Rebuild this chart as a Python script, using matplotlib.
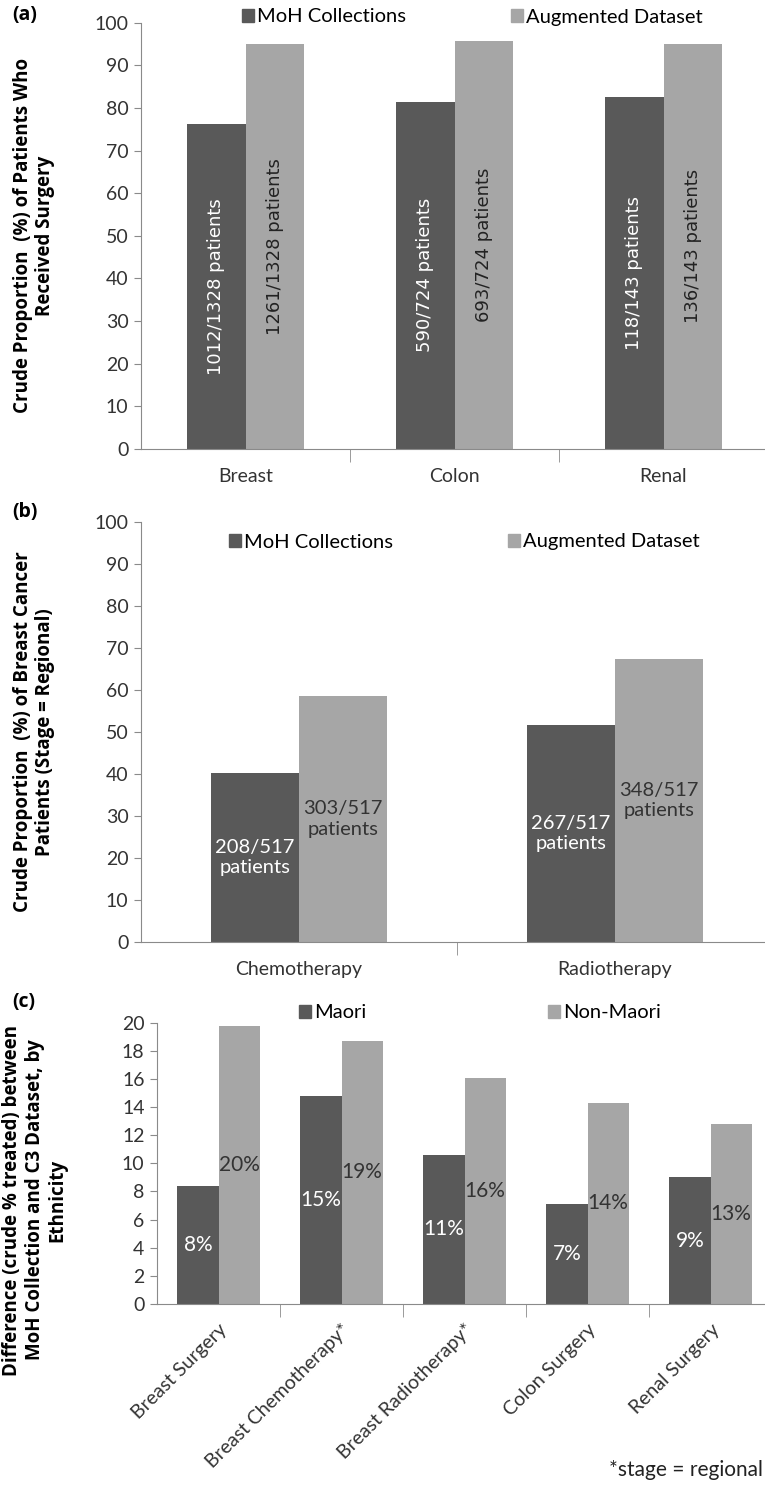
import matplotlib.pyplot as plt
from matplotlib.patches import Patch
import numpy as np

# ==============================================================================
# Data
# ==============================================================================
surg_cats = ['Breast', 'Colon', 'Renal']
surg_moh = [76.2, 81.5, 82.5]
surg_aug = [95.0, 95.7, 95.1]
surg_moh_lbl = ['1012/1328 patients', '590/724 patients', '118/143 patients']
surg_aug_lbl = ['1261/1328 patients', '693/724 patients', '136/143 patients']

adj_cats = ['Chemotherapy', 'Radiotherapy']
adj_moh = [40.2, 51.6]
adj_aug = [58.6, 67.3]
adj_moh_lbl = ['208/517\npatients', '267/517\npatients']
adj_aug_lbl = ['303/517\npatients', '348/517\npatients']

eth_cats = ['Breast Surgery', 'Breast Chemotherapy*', 'Breast Radiotherapy*',
            'Colon Surgery', 'Renal Surgery']
eth_maori = [8.4, 14.8, 10.6, 7.1, 9.0]
eth_non = [19.8, 18.7, 16.1, 14.3, 12.8]
eth_maori_lbl = ['8%', '15%', '11%', '7%', '9%']
eth_non_lbl = ['20%', '19%', '16%', '14%', '13%']

DARK = '#595959'
LIGHT = '#a6a6a6'
AXC = '#8a8a8a'
NARROW = ['Lato', 'DejaVu Sans']
BOLD = ['Open Sans', 'DejaVu Sans']

W, H = 765, 1485
fig = plt.figure(figsize=(W / 100, H / 100), dpi=100)


def fx(px):
    return px / W


def fy(py):
    return 1 - py / H


def style_axes(ax, ncat, ymax, ystep):
    for s in ['top', 'right']:
        ax.spines[s].set_visible(False)
    for s in ['left', 'bottom']:
        ax.spines[s].set_color(AXC)
    ax.set_xlim(-0.5, ncat - 0.5)
    ax.set_ylim(0, ymax)
    ax.set_yticks(np.arange(0, ymax + 0.1, ystep))
    ax.set_xticks(np.arange(ncat))
    ax.set_xticks(np.arange(ncat) + 0.5, minor=True)
    ax.tick_params(axis='x', which='major', length=0, pad=14)
    ax.tick_params(axis='x', which='minor', length=9, color=AXC)
    ax.tick_params(axis='y', length=5, color=AXC, pad=4)
    for t in ax.get_yticklabels() + ax.get_xticklabels():
        t.set_family(NARROW)
        t.set_fontsize(14)
        t.set_color('#333333')


def add_legend(ax, labels, cx, cy, gap):
    h = [Patch(color=DARK), Patch(color=LIGHT)]
    fig.legend(h, labels, loc='center', bbox_to_anchor=(fx(cx), fy(cy)),
               ncol=2, frameon=False, handlelength=0.6, handleheight=0.6,
               handletextpad=0.15, columnspacing=gap,
               prop={'family': NARROW, 'size': 14.5})


# ==============================================================================
# (a) Surgery
# ==============================================================================
ax = fig.add_axes([fx(141), fy(449), fx(627), (449 - 22.7) / H])
x = np.arange(len(surg_cats))
bw = 0.28
ax.bar(x - bw / 2, surg_moh, bw, color=DARK)
ax.bar(x + bw / 2, surg_aug, bw, color=LIGHT)
for i in range(len(x)):
    ax.text(x[i] - bw / 2, surg_moh[i] / 2, surg_moh_lbl[i], rotation=90,
            ha='center', va='center', color='white', fontsize=13,
            family='DejaVu Sans')
    ax.text(x[i] + bw / 2, surg_aug[i] / 2, surg_aug_lbl[i], rotation=90,
            ha='center', va='center', color='#222222', fontsize=13,
            family='DejaVu Sans')
ax.set_xticklabels(surg_cats)
style_axes(ax, 3, 100, 10)
ax.set_ylabel('Crude Proportion  (%) of Patients Who\nReceived Surgery',
              fontsize=13.5, fontweight='bold', family=BOLD, linespacing=1.15)
ax.yaxis.set_label_coords(fx(55 - 141) / fx(627), 0.5)
add_legend(ax, ['MoH Collections', 'Augmented Dataset'], 472, 17, 5.2)
fig.text(fx(12), fy(15), '(a)', fontsize=14, fontweight='bold', family=BOLD,
         va='center')

# ==============================================================================
# (b) Chemotherapy / Radiotherapy
# ==============================================================================
ax = fig.add_axes([fx(141), fy(942), fx(632), (942 - 521.7) / H])
x = np.arange(len(adj_cats))
ax.bar(x - bw / 2, adj_moh, bw, color=DARK)
ax.bar(x + bw / 2, adj_aug, bw, color=LIGHT)
for i in range(len(x)):
    ax.text(x[i] - bw / 2, adj_moh[i] / 2, adj_moh_lbl[i], ha='center',
            va='center', color='white', fontsize=14.5, family=NARROW,
            linespacing=1.25)
    ax.text(x[i] + bw / 2, adj_aug[i] / 2, adj_aug_lbl[i], ha='center',
            va='center', color='#333333', fontsize=14.5, family=NARROW,
            linespacing=1.25)
ax.set_xticklabels(adj_cats)
style_axes(ax, 2, 100, 10)
ax.set_ylabel('Crude Proportion  (%) of Breast Cancer\nPatients (Stage = Regional)',
              fontsize=13.5, fontweight='bold', family=BOLD, linespacing=1.15)
ax.yaxis.set_label_coords(fx(55 - 141) / fx(632), 0.5)
add_legend(ax, ['MoH Collections', 'Augmented Dataset'], 464, 542, 5.7)
fig.text(fx(12), fy(512), '(b)', fontsize=14, fontweight='bold', family=BOLD,
         va='center')

# ==============================================================================
# (c) Difference by ethnicity
# ==============================================================================
ax = fig.add_axes([fx(157), fy(1304), fx(615), (1304 - 1022.7) / H])
x = np.arange(len(eth_cats))
bw = 0.335
ax.bar(x - bw / 2, eth_maori, bw, color=DARK)
ax.bar(x + bw / 2, eth_non, bw, color=LIGHT)
for i in range(len(x)):
    ax.text(x[i] - bw / 2, eth_maori[i] / 2, eth_maori_lbl[i], ha='center',
            va='center', color='white', fontsize=15, family=NARROW)
    ax.text(x[i] + bw / 2, eth_non[i] / 2, eth_non_lbl[i], ha='center',
            va='center', color='#333333', fontsize=15, family=NARROW)
ax.set_xticklabels(eth_cats, rotation=45, ha='right', rotation_mode='anchor')
style_axes(ax, 5, 20, 2)
ax.tick_params(axis='x', which='major', pad=12, labelsize=14)
ax.set_ylabel('Difference (crude % treated) between\nMoH Collection and C3 Dataset, by\nEthnicity',
              fontsize=13.5, fontweight='bold', family=BOLD, linespacing=1.15)
ax.yaxis.set_label_coords(fx(67 - 157) / fx(615), (1304 - 1200) / (1304 - 1022.7))
add_legend(ax, ['Maori', 'Non-Maori'], 480, 1013, 9)
fig.text(fx(12), fy(1002), '(c)', fontsize=14, fontweight='bold', family=BOLD,
         va='center')
fig.text(fx(763), fy(1470), '*stage = regional', fontsize=15, family=NARROW,
         ha='right', va='center', color='#222222')

plt.savefig('out.png', dpi=100)
